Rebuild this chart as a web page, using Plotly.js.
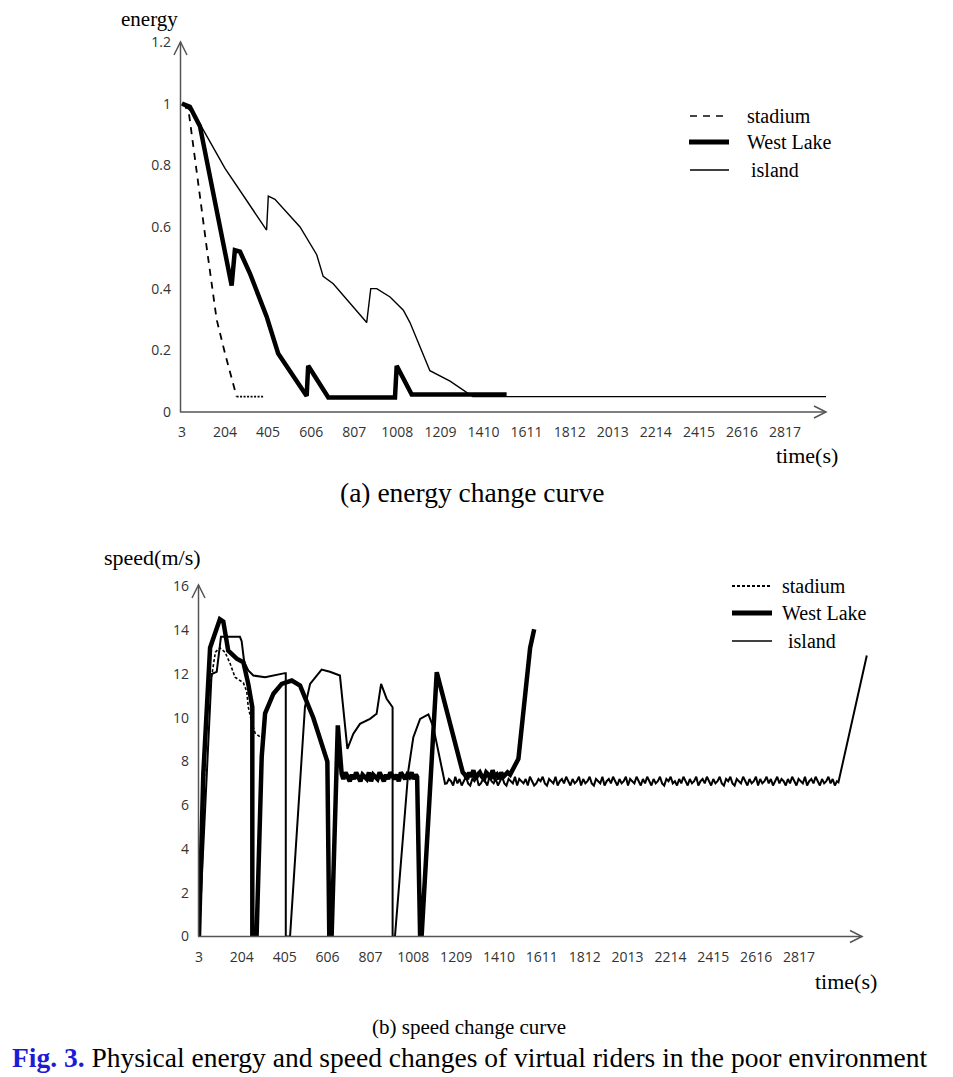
<!DOCTYPE html>
<html>
<head>
<meta charset="utf-8">
<script src="https://cdn.plot.ly/plotly-3.0.1.min.js"></script>
<style>html,body{margin:0;padding:0;background:#fff;}#chart{width:953px;height:1077px;}</style>
</head>
<body>
<div id="chart"></div>
<script>
// ---------- tick labels ----------
const xTicks = [3, 204, 405, 606, 807, 1008, 1209, 1410, 1611, 1812, 2013, 2214, 2415, 2616, 2817];
const xTickText = ["3","204","405","606","807","1008","1209","1410","1611","1812","2013","2214","2415","2616","2817"];
const energyTicks = [0, 0.2, 0.4, 0.6, 0.8, 1, 1.2];
const speedTicks = [0, 2, 4, 6, 8, 10, 12, 14, 16];

// ---------- (a) energy ----------
const stadiumE_t = [3, 20, 37, 64, 87, 118, 165, 204, 238, 258, 382];
const stadiumE_v = [1.0, 0.99, 0.962, 0.81, 0.70, 0.536, 0.30, 0.19, 0.105, 0.05, 0.05];

const westE_t = [3, 40, 87, 235, 250, 274, 320, 398, 452, 585, 592, 686, 997, 1005, 1075, 1518];
const westE_v = [1.0, 0.99, 0.927, 0.41, 0.525, 0.52, 0.45, 0.31, 0.19, 0.052, 0.15, 0.047, 0.047, 0.15, 0.057, 0.057];

const islandE_t = [3, 56, 102, 204, 398, 406, 437, 554, 632, 662, 709, 865, 884, 912, 974, 1036, 1067, 1160, 1254, 1332, 1360, 3008];
const islandE_v = [1.0, 0.97, 0.916, 0.79, 0.59, 0.70, 0.69, 0.60, 0.51, 0.44, 0.416, 0.29, 0.40, 0.40, 0.373, 0.33, 0.29, 0.134, 0.10, 0.063, 0.05, 0.05];

// ---------- (b) speed ----------
const stadiumS_t = [3, 40, 80, 101, 125, 148, 172, 211, 227, 234, 250, 266, 300];
const stadiumS_v = [0, 10.5, 13.0, 13.2, 13.0, 12.5, 11.85, 11.6, 11.2, 10.5, 9.8, 9.3, 9.05];

const westS_t_a = [3, 23, 55, 101, 117, 140, 180, 211, 234, 253, 253, 273, 297, 313, 352, 391, 438, 477, 539, 594, 605, 614, 614, 625, 654, 672];
const westS_v_a = [0, 7.4, 13.2, 14.5, 14.4, 13.07, 12.7, 12.54, 11.55, 10.48, 0, 0, 8.2, 10.2, 11.1, 11.55, 11.7, 11.47, 10.0, 8.2, 8.0, 0, 0, 0, 9.65, 7.44];
const westS_t_n1 = [680,690,700,710,720,730,740,750,760,770,780,790,800,810,820,830,840,850,860,870,880,890,900,910,920,930,940,950,960,970,980,990,1000,1010,1020];
const westS_v_n1 = [7.2,7.5,7.3,7.1,7.4,7.2,7.5,7.3,7.1,7.4,7.3,7.2,7.5,7.1,7.4,7.3,7.2,7.5,7.3,7.1,7.4,7.2,7.5,7.3,7.2,7.4,7.1,7.5,7.3,7.2,7.4,7.3,7.5,7.2,7.4];
const westS_t_b = [1026, 1040, 1047, 1118, 1240];
const westS_v_b = [7.3, 0, 0, 12.08, 7.5];
const westS_t_n2 = [1250,1260,1270,1280,1290,1300,1310,1320,1330,1340,1350,1360,1370,1380,1390,1400,1410,1420,1430,1440,1450];
const westS_v_n2 = [7.4,7.2,7.5,7.3,7.6,7.2,7.4,7.5,7.3,7.2,7.5,7.4,7.2,7.6,7.3,7.4,7.2,7.5,7.3,7.4,7.5];
const westS_t_c = [1462, 1501, 1556, 1575];
const westS_v_c = [7.4, 8.12, 13.2, 14.05];

const islandS_t_a = [3, 62, 86, 106, 195, 203, 215, 234, 258, 313, 406, 410, 410, 430, 500, 524, 578, 617, 664, 699, 727, 758, 805, 836, 857, 883, 911, 911, 922, 985, 1008, 1040, 1079, 1102, 1157];
const islandS_v_a = [0, 12.0, 12.1, 13.7, 13.7, 13.5, 12.55, 12.16, 11.93, 11.85, 12.04, 12.04, 0, 0, 10.5, 11.55, 12.2, 12.1, 11.93, 8.58, 9.27, 9.72, 9.95, 10.18, 11.55, 10.87, 10.48, 0, 0, 7.6, 9.1, 9.95, 10.15, 9.57, 6.98];
const islandS_t_n = [
  1165,1175,1185,1195,1205,1215,1225,1235,1245,1255,
  1265,1275,1285,1295,1305,1315,1325,1335,1345,1355,
  1365,1375,1385,1395,1405,1415,1425,1435,1445,1455,
  1465,1475,1485,1495,1505,1515,1525,1535,1545,1555,
  1565,1575,1585,1595,1605,1615,1625,1635,1645,1655,
  1665,1675,1685,1695,1705,1715,1725,1735,1745,1755,
  1765,1775,1785,1795,1805,1815,1825,1835,1845,1855,
  1865,1875,1885,1895,1905,1915,1925,1935,1945,1955,
  1965,1975,1985,1995,2005,2015,2025,2035,2045,2055,
  2065,2075,2085,2095,2105,2115,2125,2135,2145,2155,
  2165,2175,2185,2195,2205,2215,2225,2235,2245,2255,
  2265,2275,2285,2295,2305,2315,2325,2335,2345,2355,
  2365,2375,2385,2395,2405,2415,2425,2435,2445,2455,
  2465,2475,2485,2495,2505,2515,2525,2535,2545,2555,
  2565,2575,2585,2595,2605,2615,2625,2635,2645,2655,
  2665,2675,2685,2695,2705,2715,2725,2735,2745,2755,
  2765,2775,2785,2795,2805,2815,2825,2835,2845,2855,
  2865,2875,2885,2895,2905,2915,2925,2935,2945,2955,
  2965,2975,2985,2995];
const islandS_v_n = [
  7.0,7.2,7.1,6.9,7.3,7.0,7.2,6.9,7.1,7.3,
  7.0,6.9,7.2,7.1,7.3,6.9,7.0,7.2,7.1,6.9,
  7.3,7.1,7.0,7.2,6.9,7.1,7.3,7.0,6.9,7.2,
  7.1,7.0,7.3,6.9,7.2,7.1,7.0,7.2,6.9,7.3,
  7.1,6.9,7.0,7.2,7.1,7.3,7.0,6.9,7.2,7.1,
  7.0,7.3,6.9,7.1,7.2,7.0,7.3,7.1,6.9,7.2,
  7.0,7.1,7.3,6.9,7.2,7.0,7.1,7.3,7.0,6.9,
  7.2,7.1,7.0,7.3,6.9,7.1,7.2,7.0,7.3,7.1,
  6.9,7.2,7.0,7.1,7.3,6.9,7.2,7.1,7.0,7.3,
  7.1,6.9,7.2,7.0,7.3,7.1,6.9,7.2,7.0,7.1,
  7.3,7.0,6.9,7.2,7.1,7.3,7.0,7.1,6.9,7.2,
  7.0,7.3,7.1,6.9,7.2,7.0,7.1,7.3,6.9,7.1,
  7.2,7.0,7.3,7.1,6.9,7.2,7.0,7.1,7.3,7.0,
  6.9,7.2,7.1,7.3,7.0,6.9,7.2,7.1,7.0,7.3,
  7.1,6.9,7.2,7.0,7.1,7.3,6.9,7.2,7.0,7.1,
  7.3,7.0,7.2,6.9,7.1,7.3,7.0,7.2,7.1,6.9,
  7.2,7.0,7.3,7.1,6.9,7.2,7.1,7.0,7.3,6.9,
  7.1,7.2,7.0,7.3,7.1,6.9,7.2,7.0,7.1,7.3,
  7.0,7.2,6.9,7.1];
const islandS_t_b = [3002, 3135];
const islandS_v_b = [7.05, 12.85];

const seriesNames = ["stadium", "West Lake", "island"];

// ---------- layout helpers (pixel -> paper) ----------
const W = 953, H = 1077;
const X = p => p / W;
const Y = p => 1 - p / H;

const westS_t = [...westS_t_a, ...westS_t_n1, ...westS_t_b, ...westS_t_n2, ...westS_t_c];
const westS_v = [...westS_v_a, ...westS_v_n1, ...westS_v_b, ...westS_v_n2, ...westS_v_c];
const islandS_t = [...islandS_t_a, ...islandS_t_n, ...islandS_t_b];
const islandS_v = [...islandS_v_a, ...islandS_v_n, ...islandS_v_b];

const thin = {color: '#000', width: 1.4};
const thick = {color: '#000', width: 4.5};
const noisy = {color: '#000', width: 2};

// stadium energy: dashed descent, dotted tail (same series, split at the 10th point)
const cut = 9;

const traces = [
  {x: islandE_t, y: islandE_v, xaxis: 'x', yaxis: 'y', mode: 'lines', line: thin, name: seriesNames[2]},
  {x: westE_t, y: westE_v, xaxis: 'x', yaxis: 'y', mode: 'lines', line: thick, name: seriesNames[1]},
  {x: stadiumE_t.slice(0, cut + 1), y: stadiumE_v.slice(0, cut + 1), xaxis: 'x', yaxis: 'y', mode: 'lines', line: {color: '#000', width: 1.8, dash: '7px,6px'}, name: seriesNames[0]},
  {x: stadiumE_t.slice(cut), y: stadiumE_v.slice(cut), xaxis: 'x', yaxis: 'y', mode: 'lines', line: {color: '#000', width: 1.8, dash: '2px,1.5px'}, name: seriesNames[0]},
  {x: islandS_t, y: islandS_v, xaxis: 'x2', yaxis: 'y2', mode: 'lines', line: noisy, name: seriesNames[2]},
  {x: westS_t, y: westS_v, xaxis: 'x2', yaxis: 'y2', mode: 'lines', line: thick, name: seriesNames[1]},
  {x: stadiumS_t, y: stadiumS_v, xaxis: 'x2', yaxis: 'y2', mode: 'lines', line: {color: '#000', width: 1.6, dash: '3px,2px'}, name: seriesNames[0]}
];

const tickFont = {family: 'Open Sans', size: 14, color: '#333'};
const serif = 'Liberation Serif';
const axisCol = '#555';

const baseX = {showline: false, showgrid: false, zeroline: false, ticks: '', tickmode: 'array', tickvals: xTicks, ticktext: xTickText, tickfont: tickFont, ticklabelstandoff: 10, fixedrange: true};
const baseY = {showline: false, showgrid: false, zeroline: false, ticks: '', tickmode: 'array', tickfont: tickFont, ticklabelstandoff: 8, fixedrange: true};

const seg = (x0, y0, x1, y1, line) => ({type: 'line', xref: 'paper', yref: 'paper', x0: X(x0), y0: Y(y0), x1: X(x1), y1: Y(y1), line: line});
const path = (pts, line) => ({type: 'path', xref: 'paper', yref: 'paper', path: 'M ' + pts.map(p => X(p[0]) + ',' + Y(p[1])).join(' L '), line: line});
const ax = {color: axisCol, width: 1.5};

const shapes = [
  // top axes
  seg(180.5, 412, 180.5, 42, ax),
  seg(180, 412, 826, 412, ax),
  path([[174, 55], [180.5, 42], [187, 55]], ax),
  path([[814, 406], [826, 412], [814, 418]], ax),
  // bottom axes
  seg(198.5, 936.5, 198.5, 585, ax),
  seg(198, 936.5, 862, 936.5, ax),
  path([[192, 598], [198.5, 585], [205, 598]], ax),
  path([[850, 930.5], [862, 936.5], [850, 942.5]], ax),
  // top legend
  seg(690, 116, 725, 116, {color: '#444', width: 2, dash: '7px,6px'}),
  seg(689, 142, 729, 142, {color: '#000', width: 5}),
  seg(690, 170, 729, 170, {color: '#000', width: 1.5}),
  // bottom legend
  seg(732, 586, 772, 586, {color: '#000', width: 1.8, dash: '3px,2px'}),
  seg(732, 613, 772, 613, {color: '#000', width: 5}),
  seg(732, 641, 772, 641, {color: '#000', width: 1.5})
];

const ann = (px, py, text, size, anchor, extra) => Object.assign({
  xref: 'paper', yref: 'paper', x: X(px), y: Y(py), text: text, showarrow: false,
  xanchor: anchor || 'center', yanchor: 'middle',
  font: {family: serif, size: size, color: '#000'}
}, extra || {});

const annotations = [
  ann(149, 19, 'energy', 21),
  ann(807, 455, 'time(s)', 22),
  ann(152, 557, 'speed(m/s)', 22),
  ann(846, 981, 'time(s)', 22),
  ann(472, 492, '(a) energy change curve', 27.5),
  ann(469, 1027, '(b) speed change curve', 21),
  ann(10, 1057, "<b><span style='color:#1c1cd6'>Fig. 3.</span></b> Physical energy and speed changes of virtual riders in the poor environment", 27.5, 'left'),
  // top legend text
  ann(745, 116, seriesNames[0], 20, 'left'),
  ann(745, 142, seriesNames[1], 20, 'left'),
  ann(749, 170, seriesNames[2], 20, 'left'),
  // bottom legend text
  ann(780, 586, seriesNames[0], 20, 'left'),
  ann(780, 613, seriesNames[1], 20, 'left'),
  ann(786, 641, seriesNames[2], 20, 'left')
];

const layout = {
  width: W, height: H,
  margin: {l: 0, r: 0, t: 0, b: 0, pad: 0},
  paper_bgcolor: '#fff', plot_bgcolor: 'rgba(0,0,0,0)',
  showlegend: false,
  xaxis: Object.assign({}, baseX, {domain: [X(180), X(826)], range: [-6, 3008], anchor: 'y'}),
  yaxis: Object.assign({}, baseY, {domain: [Y(412), Y(42)], range: [0, 1.2], tickvals: energyTicks, anchor: 'x'}),
  xaxis2: Object.assign({}, baseX, {domain: [X(198), X(870)], range: [-1.7, 3150], anchor: 'y2'}),
  yaxis2: Object.assign({}, baseY, {domain: [Y(936.5), Y(586.5)], range: [0, 16], tickvals: speedTicks, anchor: 'x2'}),
  shapes: shapes,
  annotations: annotations
};

Plotly.newPlot('chart', traces, layout, {displayModeBar: false, staticPlot: true});
</script>
</body>
</html>
